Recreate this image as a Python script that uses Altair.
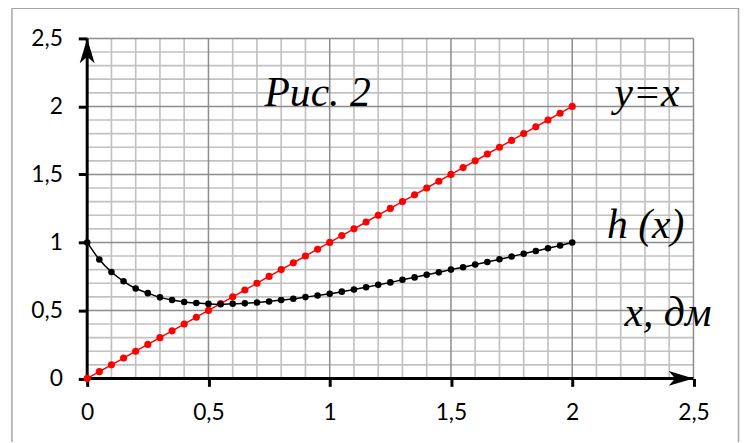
import altair as alt
import pandas as pd

# x positions of the plotted points (dm)
x_pts = [0.00, 0.05, 0.10, 0.15, 0.20, 0.25, 0.30, 0.35, 0.40, 0.45,
         0.50, 0.55, 0.60, 0.65, 0.70, 0.75, 0.80, 0.85, 0.90, 0.95,
         1.00, 1.05, 1.10, 1.15, 1.20, 1.25, 1.30, 1.35, 1.40, 1.45,
         1.50, 1.55, 1.60, 1.65, 1.70, 1.75, 1.80, 1.85, 1.90, 1.95, 2.00]
# y = x series
y_line = [0.00, 0.05, 0.10, 0.15, 0.20, 0.25, 0.30, 0.35, 0.40, 0.45,
          0.50, 0.55, 0.60, 0.65, 0.70, 0.75, 0.80, 0.85, 0.90, 0.95,
          1.00, 1.05, 1.10, 1.15, 1.20, 1.25, 1.30, 1.35, 1.40, 1.45,
          1.50, 1.55, 1.60, 1.65, 1.70, 1.75, 1.80, 1.85, 1.90, 1.95, 2.00]
# h(x) series
h_vals = [1.000, 0.874, 0.782, 0.714, 0.661, 0.627, 0.596, 0.576, 0.562, 0.554,
          0.548, 0.546, 0.549, 0.552, 0.558, 0.566, 0.576, 0.586, 0.598, 0.610,
          0.623, 0.638, 0.654, 0.671, 0.688, 0.706, 0.725, 0.743, 0.762, 0.780,
          0.800, 0.818, 0.837, 0.856, 0.876, 0.896, 0.917, 0.937, 0.957, 0.978, 1.000]

axis_ticks = [0, 0.5, 1, 1.5, 2, 2.5]
major_grid = [0.5, 1.0, 1.5, 2.0, 2.5]
minor_grid = [0.1, 0.2, 0.3, 0.4, 0.6, 0.7, 0.8, 0.9, 1.1, 1.2, 1.3, 1.4,
              1.6, 1.7, 1.8, 1.9, 2.1, 2.2, 2.3, 2.4]

ann_text = ["Рис. 2", "y=x", "h (x)", "x, дм"]
ann_x = [0.95, 2.308, 2.303, 2.395]
ann_y = [2.0, 2.0, 1.03, 0.385]

W, H = 612.5, 343.5
xsc = alt.Scale(domain=[0, 2.5], nice=False, zero=False)
ysc = alt.Scale(domain=[0, 2.5], nice=False, zero=False)

lbl = "replace(toString(datum.value), '.', ',')"
axis_x = alt.Axis(values=axis_ticks, domain=False, grid=False, ticks=True,
                  tickColor="black", tickWidth=3, tickSize=8,
                  labelFont="Lato", labelFontSize=23, labelColor="black",
                  labelPadding=15, labelFlush=False, labelOverlap=False,
                  labelBound=False, labelExpr=lbl, title=None)
axis_y = alt.Axis(values=axis_ticks, domain=False, grid=False, ticks=True,
                  tickColor="black", tickWidth=3, tickSize=9,
                  labelFont="Lato", labelFontSize=23, labelColor="black",
                  labelPadding=16, labelFlush=False, labelOverlap=False,
                  labelBound=False, labelExpr=lbl, title=None)

series = pd.DataFrame({"x": x_pts, "yx": y_line, "h": h_vals})
minor_df = pd.DataFrame({"v": minor_grid})
major_df = pd.DataFrame({"v": major_grid})
axes_df = pd.DataFrame({"x": [0, 0], "y": [0, 0], "x2": [0, 2.5], "y2": [2.5, 0]})
arrow_up_df = pd.DataFrame({"x": [0], "y": [2.5]})
arrow_rt_df = pd.DataFrame({"x": [2.5], "y": [0]})
ann_df = pd.DataFrame({"t": ann_text, "x": ann_x, "y": ann_y})
one = pd.DataFrame({"a": [0]})

def X(f):
    return alt.X(f, type="quantitative", scale=xsc, axis=axis_x, title=None)

def Y(f):
    return alt.Y(f, type="quantitative", scale=ysc, axis=axis_y, title=None)

frame = alt.Chart(one).mark_rect(fill="white", fillOpacity=0, stroke="#a6a6a6",
                                 strokeWidth=1.5).encode(
    x=alt.value(-76), x2=alt.value(658), y=alt.value(-30.5), y2=alt.value(420))

minor_v = alt.Chart(minor_df).mark_rule(color="#c2c2c2", strokeWidth=1.7).encode(x=X("v"))
minor_h = alt.Chart(minor_df).mark_rule(color="#c2c2c2", strokeWidth=1.7).encode(y=Y("v"))
major_v = alt.Chart(major_df).mark_rule(color="#8c8c8c", strokeWidth=1.5).encode(x=X("v"))
major_h = alt.Chart(major_df).mark_rule(color="#8c8c8c", strokeWidth=1.5).encode(y=Y("v"))

axes_lines = alt.Chart(axes_df).mark_rule(color="black", strokeWidth=3).encode(
    x=X("x"), y=Y("y"), x2="x2", y2="y2")

arrow_up = alt.Chart(arrow_up_df).mark_point(
    shape="M0,0 L0.75,2.5 L0,1.85 L-0.75,2.5 Z", size=400, filled=True,
    color="black", opacity=1).encode(x=X("x"), y=Y("y"))
arrow_rt = alt.Chart(arrow_rt_df).mark_point(
    shape="M0,0 L-2.5,-0.75 L-1.85,0 L-2.5,0.75 Z", size=400, filled=True,
    color="black", opacity=1).encode(x=X("x"), y=Y("y"))

base = alt.Chart(series)
red_line = base.mark_line(color="#ff0000", strokeWidth=1.5).encode(
    x=X("x"), y=Y("yx"))
red_pts = base.mark_circle(color="#ff0000", size=52, opacity=1).encode(x=X("x"), y=Y("yx"))
blk_line = base.mark_line(color="black", strokeWidth=1.5, interpolate="monotone").encode(
    x=X("x"), y=Y("h"))
blk_pts = base.mark_circle(color="black", size=44, opacity=1).encode(x=X("x"), y=Y("h"))

ann = alt.Chart(ann_df).mark_text(font="Liberation Serif", fontStyle="italic",
                                  fontSize=42, align="center", baseline="alphabetic",
                                  color="black").encode(x=X("x"), y=Y("y"), text="t:N")

chart = alt.layer(frame, minor_v, minor_h, major_v, major_h, axes_lines,
                  arrow_up, arrow_rt, red_line, red_pts, blk_line, blk_pts, ann).properties(
    width=W, height=H,
    autosize=alt.AutoSizeParams(type="none"),
    padding={"left": 80, "top": 28.5, "right": 47, "bottom": 62},
    background="white",
).configure_view(stroke=None)

chart.save("out.html", embed_options={"renderer": "svg", "actions": False})
